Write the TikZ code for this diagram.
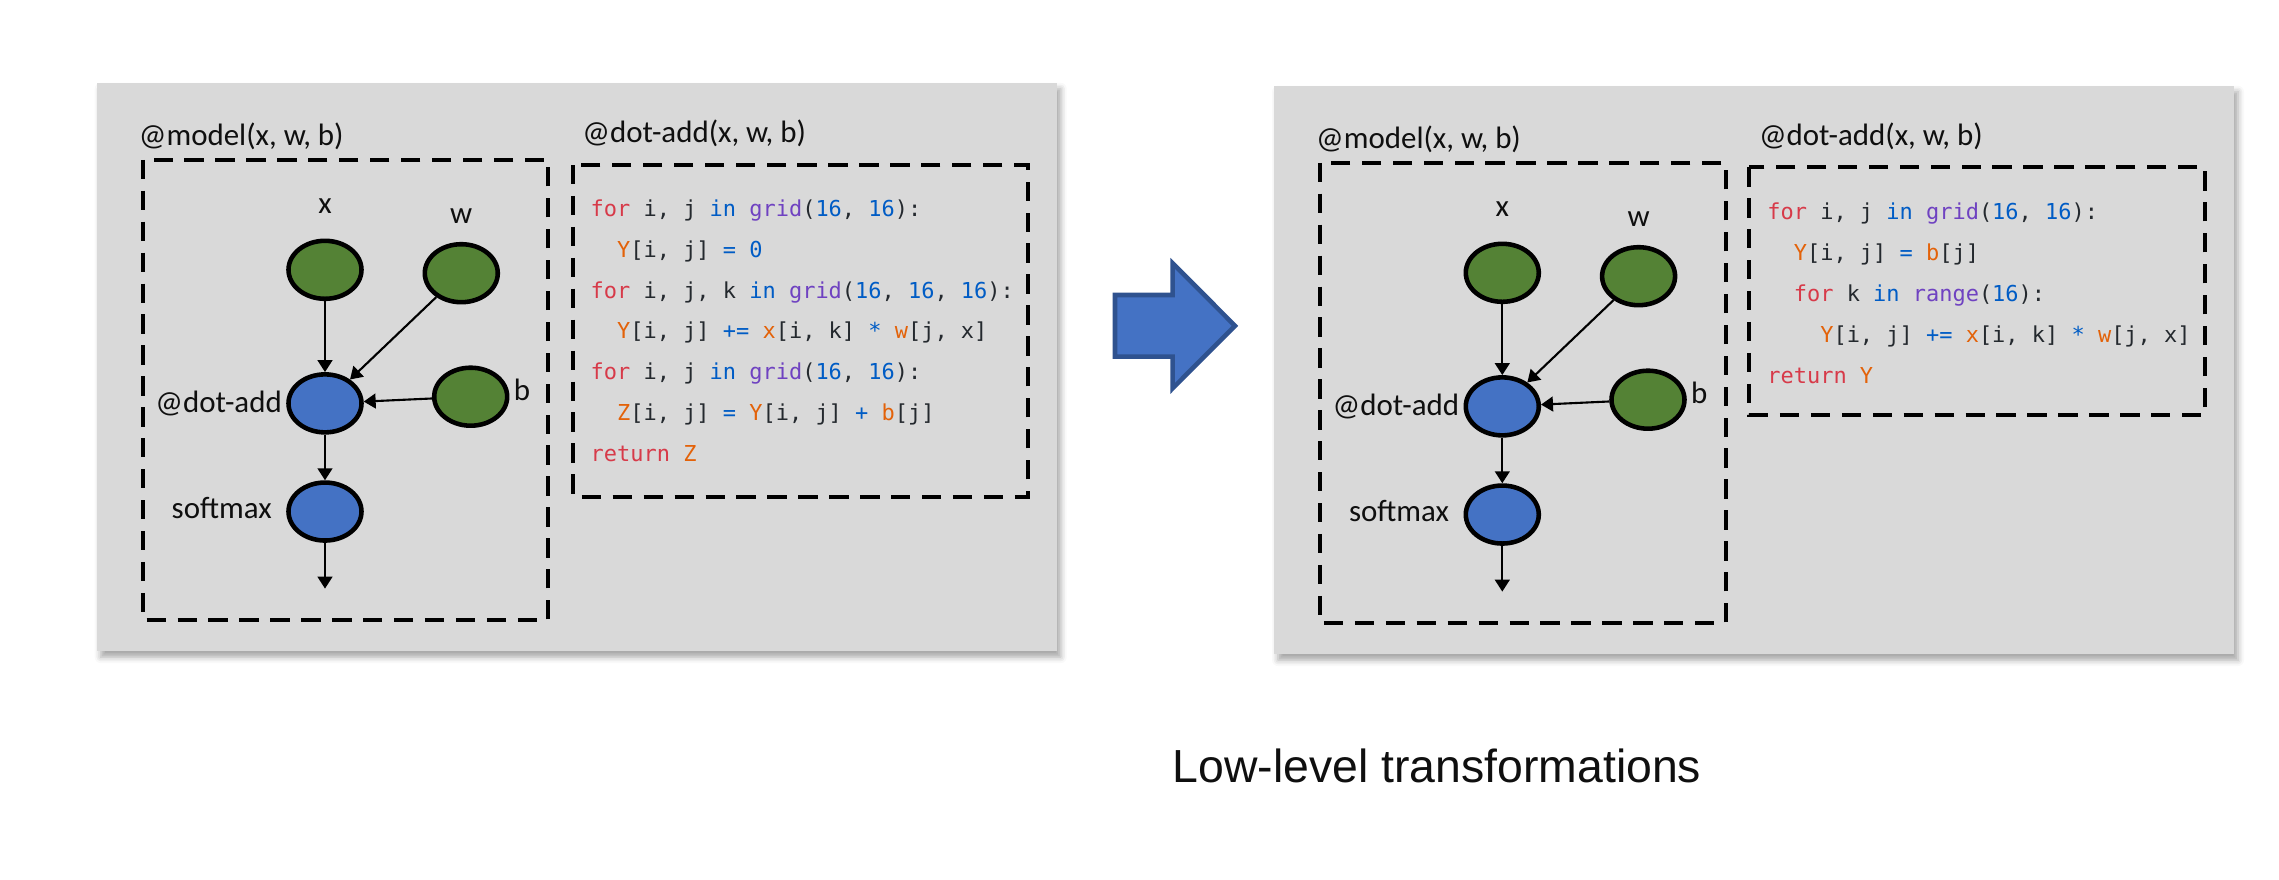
\documentclass[tikz,border=0pt]{standalone}
\usepackage{fontspec}
\setmainfont{Carlito}
\newfontfamily\codefont{DejaVu Sans Mono}
\newfontfamily\capfont{Liberation Sans}
\usetikzlibrary{
    arrows.meta,
    positioning,
    shapes.geometric,
    shadows.blur
}
\definecolor{ink}{RGB}{15,15,15}
\definecolor{panelgray}{RGB}{217,217,217}
\definecolor{inputgreen}{RGB}{84,130,53}
\definecolor{opblue}{RGB}{68,114,196}
\definecolor{arrowedge}{RGB}{47,82,143}
\definecolor{kwred}{RGB}{215,58,73}
\definecolor{kwblue}{RGB}{0,92,197}
\definecolor{kwpurple}{RGB}{111,66,193}
\definecolor{varorange}{RGB}{227,98,9}
\definecolor{codeink}{RGB}{36,41,46}
\newcommand{\ckw}[1]{\textcolor{kwred}{#1}}
\newcommand{\cop}[1]{\textcolor{kwblue}{#1}}
\newcommand{\cfn}[1]{\textcolor{kwpurple}{#1}}
\newcommand{\cvar}[1]{\textcolor{varorange}{#1}}
\newcommand{\cind}{\hphantom{xx}}
\tikzset{
    panel/.style={
        fill=panelgray,
        blur shadow={shadow xshift=0.04cm, shadow yshift=-0.06cm,
            shadow blur radius=0.06cm, shadow opacity=35}
    },
    dashbox/.style={
        draw=black,
        line width=1.2pt,
        dash pattern=on 5.5pt off 3.3pt
    },
    input/.style={
        ellipse,
        draw=black,
        line width=1.3pt,
        fill=inputgreen,
        minimum width=0.73cm,
        minimum height=0.58cm,
        inner sep=0pt
    },
    opnode/.style={input, fill=opblue},
    flow/.style={
        -{Triangle[length=3.4pt,width=4.2pt]},
        draw=black,
        line width=0.6pt
    },
    boxtitle/.style={
        font=\fontsize{8.8}{10}\selectfont,
        text=ink,
        inner sep=0pt,
        anchor=west
    },
    nodelabel/.style={
        font=\fontsize{8.8}{10}\selectfont,
        text=ink
    },
    codeline/.style={
        font=\codefont\fontsize{6.25}{7.5}\selectfont,
        text=codeink,
        inner sep=0pt,
        anchor=base west
    },
    bigarrow/.style={
        fill=opblue,
        draw=arrowedge,
        line width=1.3pt,
        line join=miter
    },
    caption/.style={
        font=\capfont\fontsize{13.2}{15}\selectfont,
        text=ink
    }
}
\begin{document}
\begin{tikzpicture}
\useasboundingbox (0,0) rectangle (22.79,-8.80);

% Left panel: before
\begin{scope}[shift={(0.967,-0.828)}]
    \path[panel] (0,0) rectangle (9.60,-5.683);

    % Model graph
    \node[boxtitle] (lmodeltitle) at (0.415,-0.538) {@model(x, w, b)};
    \draw[dashbox] (0.46,-0.77) rectangle (4.516,-5.37);

    \node[input] (lx) at (2.283,-1.87) {};
    \node[input] (lw) at (3.646,-1.904) {};
    \node[opnode, below=0.71cm of lx] (ldot) {};
    \node[opnode, below=0.456cm of ldot] (lsoft) {};
    \node[input] (lb) at (3.74,-3.139) {};
    \coordinate (lout) at (2.283,-5.058);

    \node[nodelabel, above=0.13cm of lx] (lxlabel) {x};
    \node[nodelabel, above=0.06cm of lw] (lwlabel) {w};
    \node[nodelabel, right=-0.08cm of lb, yshift=0.07cm] (lblabel) {b};
    \node[nodelabel, left=-0.08cm of ldot] (ldotlabel) {@dot-add};
    \node[nodelabel, left=0.02cm of lsoft, yshift=0.04cm] (lsoftlabel) {softmax};

    \draw[flow] (lx) -- (ldot);
    \draw[flow] (lw) -- (ldot);
    \draw[flow] (lb) -- (ldot);
    \draw[flow] (ldot) -- (lsoft);
    \draw[flow] (lsoft) -- (lout);

    % Kernel code
    \node[boxtitle] (lcodetitle) at (4.85,-0.505) {@dot-add(x, w, b)};
    \draw[dashbox] (4.766,-0.822) rectangle (9.316,-4.139);

    \node[codeline] (lc1) at (4.933,-1.337) {\ckw{for} i, j \cop{in} \cfn{grid}(\cop{16}, \cop{16}):};
    \node[codeline] (lc2) at ([yshift=-0.408cm]lc1.base west) {\cind\cvar{Y}[i, j] \cop{=} \cop{0}};
    \node[codeline] (lc3) at ([yshift=-0.408cm]lc2.base west) {\ckw{for} i, j, k \cop{in} \cfn{grid}(\cop{16}, \cop{16}, \cop{16}):};
    \node[codeline] (lc4) at ([yshift=-0.408cm]lc3.base west) {\cind\cvar{Y}[i, j] \cop{+=} \cvar{x}[i, k] \cop{*} \cvar{w}[j, x]};
    \node[codeline] (lc5) at ([yshift=-0.408cm]lc4.base west) {\ckw{for} i, j \cop{in} \cfn{grid}(\cop{16}, \cop{16}):};
    \node[codeline] (lc6) at ([yshift=-0.408cm]lc5.base west) {\cind\cvar{Z}[i, j] \cop{=} \cvar{Y}[i, j] \cop{+} \cvar{b}[j]};
    \node[codeline] (lc7) at ([yshift=-0.408cm]lc6.base west) {\ckw{return} \cvar{Z}};
\end{scope}

% Transformation arrow
\draw[bigarrow] (11.15,-2.95) -- (11.727,-2.95) -- (11.727,-2.633) -- (12.35,-3.258)
    -- (11.727,-3.883) -- (11.727,-3.567) -- (11.15,-3.567) -- cycle;

% Right panel: after
\begin{scope}[shift={(12.74,-0.858)}]
    \path[panel] (0,0) rectangle (9.60,-5.683);

    % Model graph
    \node[boxtitle] (rmodeltitle) at (0.415,-0.538) {@model(x, w, b)};
    \draw[dashbox] (0.46,-0.77) rectangle (4.516,-5.37);

    \node[input] (rx) at (2.283,-1.87) {};
    \node[input] (rw) at (3.646,-1.904) {};
    \node[opnode, below=0.71cm of rx] (rdot) {};
    \node[opnode, below=0.456cm of rdot] (rsoft) {};
    \node[input] (rb) at (3.74,-3.139) {};
    \coordinate (rout) at (2.283,-5.058);

    \node[nodelabel, above=0.13cm of rx] (rxlabel) {x};
    \node[nodelabel, above=0.06cm of rw] (rwlabel) {w};
    \node[nodelabel, right=-0.08cm of rb, yshift=0.07cm] (rblabel) {b};
    \node[nodelabel, left=-0.08cm of rdot] (rdotlabel) {@dot-add};
    \node[nodelabel, left=0.02cm of rsoft, yshift=0.04cm] (rsoftlabel) {softmax};

    \draw[flow] (rx) -- (rdot);
    \draw[flow] (rw) -- (rdot);
    \draw[flow] (rb) -- (rdot);
    \draw[flow] (rdot) -- (rsoft);
    \draw[flow] (rsoft) -- (rout);

    % Kernel code
    \node[boxtitle] (rcodetitle) at (4.843,-0.509) {@dot-add(x, w, b)};
    \draw[dashbox] (4.753,-0.815) rectangle (9.31,-3.292);

    \node[codeline] (rc1) at (4.927,-1.34) {\ckw{for} i, j \cop{in} \cfn{grid}(\cop{16}, \cop{16}):};
    \node[codeline] (rc2) at ([yshift=-0.408cm]rc1.base west) {\cind\cvar{Y}[i, j] \cop{=} \cvar{b}[j]};
    \node[codeline] (rc3) at ([yshift=-0.408cm]rc2.base west) {\cind\ckw{for} k \cop{in} \cfn{range}(\cop{16}):};
    \node[codeline] (rc4) at ([yshift=-0.408cm]rc3.base west) {\cind\cind\cvar{Y}[i, j] \cop{+=} \cvar{x}[i, k] \cop{*} \cvar{w}[j, x]};
    \node[codeline] (rc5) at ([yshift=-0.408cm]rc4.base west) {\ckw{return} \cvar{Y}};
\end{scope}

% Caption
\node[caption, anchor=base] (caption) at (14.37,-7.827) {Low-level transformations};

\end{tikzpicture}
\end{document}
